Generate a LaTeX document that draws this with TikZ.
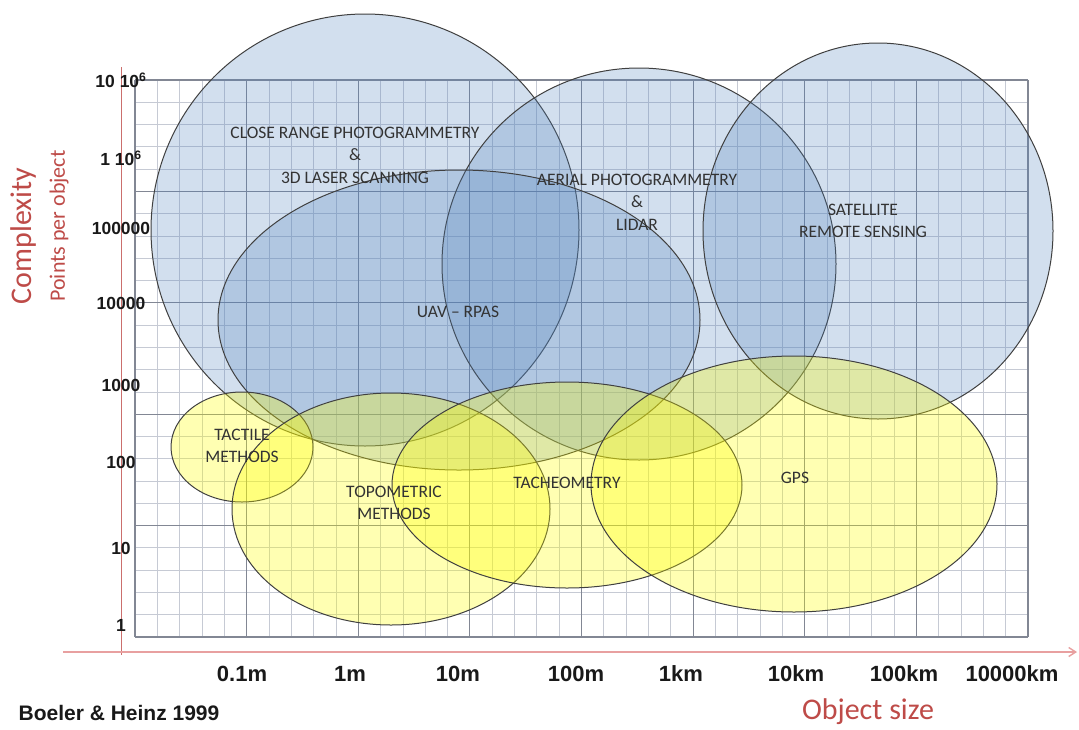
\documentclass[tikz,border=0pt]{standalone}
\usepackage{fontspec}
\setmainfont{Carlito}
\newfontfamily\arialfont{Liberation Sans}
\usepackage{tikz}
\usetikzlibrary{arrows.meta}

\definecolor{blobblue}{RGB}{79,129,189}
\definecolor{blobyellow}{RGB}{255,255,0}
\definecolor{axisred}{RGB}{190,75,72}
\definecolor{axispink}{RGB}{232,160,160}
\definecolor{gridminor}{RGB}{198,202,212}
\definecolor{gridmajor}{RGB}{130,135,148}

\tikzset{
  minor grid/.style={gridminor, line width=0.8pt},
  major grid/.style={gridmajor, line width=1.1pt},
  blue blob/.style={draw=black!75, line width=1pt, fill=blobblue, fill opacity=0.25},
  yellow blob/.style={draw=black!75, line width=1pt, fill=blobyellow, fill opacity=0.3},
  blob label/.style={text=black!80, align=center, font=\fontsize{17.5}{22.5}\selectfont},
  tick label/.style={text=black!90, font=\arialfont\bfseries\fontsize{17.5}{19}\selectfont},
  size label/.style={text=black!90, font=\arialfont\bfseries\fontsize{22}{24}\selectfont},
  axis title/.style={text=axisred, font=\fontsize{30}{32}\selectfont}
}

\begin{document}
\begin{tikzpicture}[x=1pt, y=-1pt]
  \fill[white] (0,0) rectangle (1079,729);
  \useasboundingbox (0,0) rectangle (1079,729);

  % Grid
  \foreach \i in {0,...,40}
    \draw[minor grid] ({135+22.325*\i},80) -- ({135+22.325*\i},637);
  \foreach \j in {0,...,25}
    \draw[minor grid] (135,{637-22.28*\j}) -- (1028,{637-22.28*\j});
  \foreach \i in {0,5,...,40}
    \draw[major grid] ({135+22.325*\i},80) -- ({135+22.325*\i},637);
  \foreach \j in {0,5,...,25}
    \draw[major grid] (135,{637-22.28*\j}) -- (1028,{637-22.28*\j});

  % Axes
  \coordinate (ytop) at (121,67);
  \coordinate (ybot) at (121,655);
  \coordinate (xstart) at (63,652);
  \coordinate (xend) at (1077,652);
  \draw[axisred!80, line width=1pt] (ytop) -- (ybot);
  \draw[axispink, line width=1.4pt, -{Straight Barb[length=7pt, width=9pt]}] (xstart) -- (xend);

  % Ellipses
  \draw[blue blob] (365,230) ellipse [x radius=214pt, y radius=216pt];
  \draw[blue blob] (639,264) ellipse [x radius=197pt, y radius=196pt];
  \draw[blue blob] (878,231) ellipse [x radius=175pt, y radius=188pt];
  \draw[blue blob] (459,320) ellipse [x radius=241pt, y radius=150pt];
  \draw[yellow blob] (242,447) ellipse [x radius=71pt, y radius=55pt];
  \draw[yellow blob] (391,509) ellipse [x radius=159pt, y radius=116pt];
  \draw[yellow blob] (567,485) ellipse [x radius=175pt, y radius=103pt];
  \draw[yellow blob] (794,484) ellipse [x radius=203pt, y radius=128pt];

  % Labels
  \node[blob label] (closerange) at (355,155) {CLOSE RANGE PHOTOGRAMMETRY\\\&\\3D LASER SCANNING};
  \node[blob label] (aerial) at (637,202) {AERIAL PHOTOGRAMMETRY\\\&\\LIDAR};
  \node[blob label] (satellite) at (863,221) {SATELLITE\\REMOTE SENSING};
  \node[blob label] (uav) at (458,312) {UAV -- RPAS};
  \node[blob label] (tactile) at (242,446) {TACTILE\\METHODS};
  \node[blob label] (topometric) at (394,503) {TOPOMETRIC\\METHODS};
  \node[blob label] (tacheometry) at (567,483) {TACHEOMETRY};
  \node[blob label] (gps) at (795,478) {GPS};

  % Axis labels
  \foreach \lab/\yy [count=\k] in {10 10\textsuperscript{6}/80, 1 10\textsuperscript{6}/158,
      100000/228, 10000/303, 1000/385, 100/462, 10/548, 1/625}
    \node[tick label] (ytick\k) at (121,\yy) {\lab};
  \foreach \lab/\xx [count=\k] in {0.1m/242, 1m/350, 10m/458, 100m/576,
      1km/681, 10km/796, 100km/904, 10000km/1012}
    \node[size label] (xtick\k) at (\xx,674) {\lab};

  \node[axis title, rotate=90] (complexity) at (24,236) {Complexity};
  \node[axis title, rotate=90, font=\fontsize{22}{24}\selectfont] (points) at (59,226) {Points per object};
  \node[axis title] (objsize) at (868,712) {Object size};
  \node[text=black!90, font=\arialfont\bfseries\fontsize{21}{23}\selectfont] (source) at (119,713) {Boeler \& Heinz 1999};
\end{tikzpicture}
\end{document}
